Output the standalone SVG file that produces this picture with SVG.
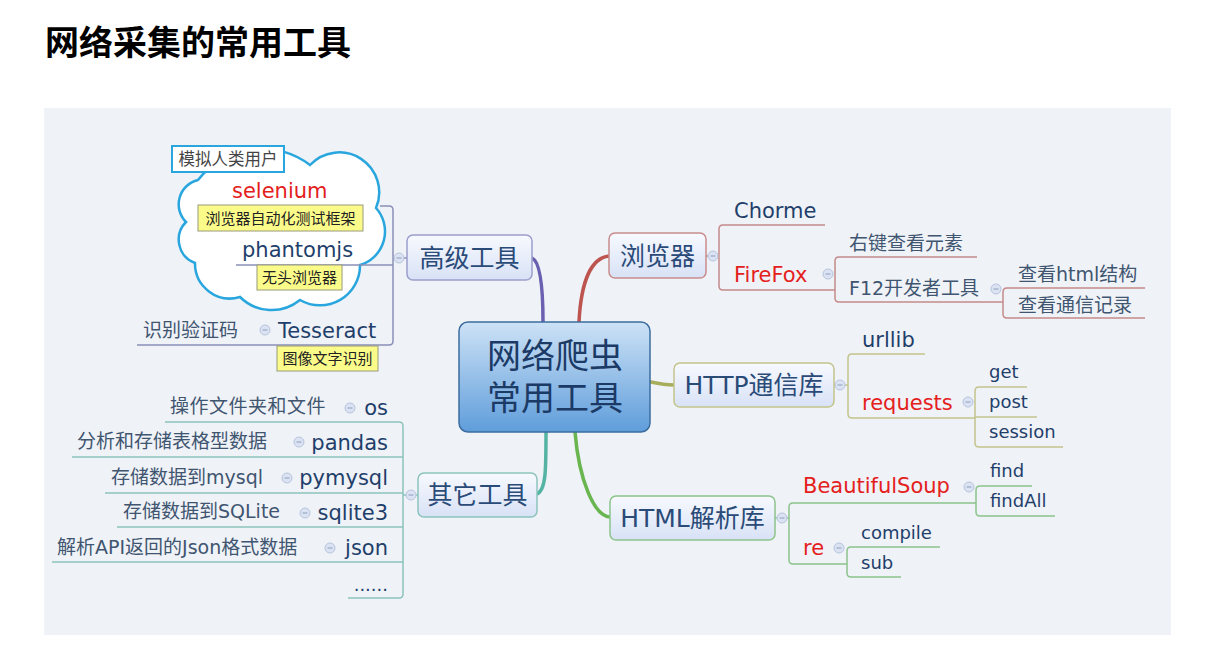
<svg xmlns="http://www.w3.org/2000/svg" width="1229" height="658" viewBox="0 0 1229 658">
<style>
text{font-family:"DejaVu Sans","Noto Sans CJK SC",sans-serif;}
.title{font-family:"Noto Sans CJK SC",sans-serif;font-weight:bold;font-size:34px;fill:#000;}
.center{font-size:34px;fill:#1c3a66;text-anchor:middle;}
.topic{font-size:25px;fill:#2a4a78;text-anchor:middle;}
.item{font-size:21px;fill:#1f3f6b;}
.sm{font-size:18px;fill:#1f3f6b;}
.red{fill:#e4201c;}
.lbl{font-size:19px;fill:#3f5570;}
.note{font-size:15px;fill:#222;text-anchor:middle;}
.ybox{fill:#fbfb8a;stroke:#9a9a7a;stroke-width:1;}
.cn{fill:none;stroke-width:1.5;}
.main{fill:none;stroke-width:3.5;stroke-linecap:round;}
.box{stroke-width:1.5;}
</style>
<defs>
<linearGradient id="gc" x1="0" y1="0" x2="0" y2="1">
<stop offset="0" stop-color="#cde2f6"/>
<stop offset="1" stop-color="#5f9ddb"/>
</linearGradient>
<linearGradient id="gt" x1="0" y1="0" x2="0" y2="1">
<stop offset="0" stop-color="#f7f9fe"/>
<stop offset="1" stop-color="#d8e2f6"/>
</linearGradient>
<g id="cb">
<circle r="5" fill="#dbe3f2" stroke="#b6c4de" stroke-width="1"/>
<line x1="-2.5" y1="0" x2="2.5" y2="0" stroke="#8e9ec0" stroke-width="1"/>
</g>
</defs>
<rect x="0" y="0" width="1229" height="658" fill="#ffffff"/>
<rect x="44" y="108" width="1127" height="527" fill="#eff2f7"/>
<text class="title" x="45" y="55">网络采集的常用工具</text>

<g id="cloud">
<path d="M 186 222 A 25 25 0 0 1 198 180 A 80 80 0 0 1 310 165 A 40 40 0 0 1 376 208 A 35 35 0 0 1 360 265 A 40 40 0 0 1 300 300 A 45 45 0 0 1 240 297 A 35 35 0 0 1 195 263 A 25 25 0 0 1 186 222 Z" fill="#ffffff" stroke="#2aa6df" stroke-width="2.5"/>
</g>

<g id="connectors">
<path class="main" stroke="#6a5fb0" d="M 532 258 C 541 262 543 292 543 322"/>
<path class="main" stroke="#bd5450" d="M 609 256 C 591 258 581 282 579 322"/>
<path class="main" stroke="#a7ad5a" d="M 651 382 C 660 384 665 385 674 385"/>
<path class="main" stroke="#69b54f" d="M 575 432 C 579 480 594 516 610 517"/>
<path class="main" stroke="#55b3a3" d="M 546 432 C 546 470 546 490 537 494"/>

<g stroke="#8b90b8" class="cn">
<path d="M 380 206 H 389 Q 393 206 393 210 V 341 Q 393 345 389 345 H 137"/>
<path d="M 236 265 H 393"/>
<path d="M 393 258 H 407"/>
</g>
<g stroke="#c58a8a" class="cn">
<path d="M 706 256 H 719"/>
<path d="M 825 225 H 723 Q 719 225 719 229 V 286 Q 719 290 723 290 H 835"/>
<path d="M 977 257 H 839 Q 835 257 835 261 V 298 Q 835 302 839 302 H 1003"/>
<path d="M 1145 288 H 1007 Q 1003 288 1003 292 V 314 Q 1003 318 1007 318 H 1145"/>
</g>
<g stroke="#c3c48c" class="cn">
<path d="M 834 385 H 848"/>
<path d="M 925 354 H 852 Q 848 354 848 358 V 414 Q 848 418 852 418 H 975"/>
<path d="M 1027 387 H 979 Q 975 387 975 391 V 443 Q 975 447 979 447 H 1063"/>
<path d="M 975 417 H 1037"/>
</g>
<g stroke="#8cc48c" class="cn">
<path d="M 775 518 H 789"/>
<path d="M 976 503 H 793 Q 789 503 789 507 V 560 Q 789 564 793 564 H 847"/>
<path d="M 1032 486 H 980 Q 976 486 976 490 V 512 Q 976 516 980 516 H 1055"/>
<path d="M 940 547 H 851 Q 847 547 847 551 V 573 Q 847 577 851 577 H 901"/>
</g>
<g stroke="#8cc3bd" class="cn">
<path d="M 403 495 H 418"/>
<path d="M 165 422 H 399 Q 403 422 403 426 V 594 Q 403 598 399 598 H 348"/>
<path d="M 72 457 H 403"/>
<path d="M 105 493 H 403"/>
<path d="M 117 527 H 403"/>
<path d="M 52 562 H 403"/>
</g>
<use href="#cb" x="399" y="258"/>
<use href="#cb" x="713" y="256"/>
<use href="#cb" x="828" y="274"/>
<use href="#cb" x="996" y="289"/>
<use href="#cb" x="840" y="385"/>
<use href="#cb" x="968" y="402"/>
<use href="#cb" x="782" y="518"/>
<use href="#cb" x="969" y="487"/>
<use href="#cb" x="839" y="548"/>
<use href="#cb" x="411" y="495"/>
<use href="#cb" x="265" y="330"/>
<use href="#cb" x="350" y="408"/>
<use href="#cb" x="299" y="442"/>
<use href="#cb" x="287" y="478"/>
<use href="#cb" x="305" y="513"/>
<use href="#cb" x="330" y="548"/>
</g>

<g id="center">
<rect x="459" y="322" width="191" height="110" rx="9" fill="url(#gc)" stroke="#3d6d9f" stroke-width="1.5"/>
<text class="center" x="555" y="368">网络爬虫</text>
<text class="center" x="555" y="410">常用工具</text>
</g>

<g id="advanced">
<rect class="box" x="407" y="235" width="125" height="45" rx="6" fill="url(#gt)" stroke="#9c9fcb"/>
<text class="topic" x="469.5" y="267">高级工具</text>
</g>
<g id="mimic">
<rect x="172" y="146" width="112" height="26" fill="#ffffff" stroke="#2aa6df" stroke-width="2"/>
<text x="228" y="165" font-size="16.5" fill="#444" text-anchor="middle">模拟人类用户</text>
</g>
<g id="selenium">
<text class="item red" x="232" y="198">selenium</text>
<rect class="ybox" x="198" y="205" width="165" height="26"/>
<text class="note" x="280.5" y="223.5">浏览器自动化测试框架</text>
</g>
<g id="phantomjs">
<text class="item" x="242" y="257" font-size="21.5">phantomjs</text>
<rect class="ybox" x="257" y="265" width="85" height="25"/>
<text class="note" x="299.5" y="283">无头浏览器</text>
</g>
<g id="tesseract">
<text class="item" x="278" y="338">Tesseract</text>
<text class="lbl" x="143" y="337">识别验证码</text>
<rect class="ybox" x="277" y="346" width="101" height="25"/>
<text class="note" x="327.5" y="364">图像文字识别</text>
</g>

<g id="browser">
<rect class="box" x="609" y="233" width="97" height="45" rx="6" fill="url(#gt)" stroke="#c98c8c"/>
<text class="topic" x="657.5" y="265">浏览器</text>
</g>
<g id="chorme"><text class="item" x="734" y="218">Chorme</text></g>
<g id="firefox"><text class="item red" x="734" y="282">FireFox</text></g>
<g id="rightclick"><text class="lbl" x="849" y="250">右键查看元素</text></g>
<g id="f12"><text class="lbl" x="849" y="295" fill="#1f3f6b">F12开发者工具</text></g>
<g id="viewhtml"><text class="lbl" x="1018" y="281">查看html结构</text></g>
<g id="viewnet"><text class="lbl" x="1018" y="312">查看通信记录</text></g>

<g id="http">
<rect class="box" x="674" y="363" width="160" height="44" rx="6" fill="url(#gt)" stroke="#c3c48c"/>
<text class="topic" x="754" y="394">HTTP通信库</text>
</g>
<g id="urllib"><text class="item" x="862" y="347">urllib</text></g>
<g id="requests"><text class="item red" x="862" y="410">requests</text></g>
<g id="get"><text class="sm" x="989" y="378">get</text></g>
<g id="post"><text class="sm" x="989" y="408">post</text></g>
<g id="session"><text class="sm" x="989" y="438">session</text></g>

<g id="html">
<rect class="box" x="610" y="496" width="165" height="44" rx="6" fill="url(#gt)" stroke="#8cc48c"/>
<text class="topic" x="692.5" y="527">HTML解析库</text>
</g>
<g id="bs"><text class="item red" x="803" y="493">BeautifulSoup</text></g>
<g id="re"><text class="item red" x="803" y="555">re</text></g>
<g id="find"><text class="sm" x="990" y="477">find</text></g>
<g id="findall"><text class="sm" x="990" y="507">findAll</text></g>
<g id="compile"><text class="sm" x="861" y="539">compile</text></g>
<g id="sub"><text class="sm" x="861" y="569">sub</text></g>

<g id="other">
<rect class="box" x="418" y="473" width="119" height="44" rx="6" fill="url(#gt)" stroke="#8cc3bd"/>
<text class="topic" x="477.5" y="504">其它工具</text>
</g>
<g id="os">
<text class="item" x="388" y="415" text-anchor="end" font-size="20.5">os</text>
<text class="lbl" x="170" y="413" letter-spacing="0.5">操作文件夹和文件</text>
</g>
<g id="pandas">
<text class="item" x="388" y="450" text-anchor="end" font-size="20.5">pandas</text>
<text class="lbl" x="77" y="448">分析和存储表格型数据</text>
</g>
<g id="pymysql">
<text class="item" x="388" y="485" text-anchor="end" font-size="20.5">pymysql</text>
<text class="lbl" x="111" y="484">存储数据到mysql</text>
</g>
<g id="sqlite3">
<text class="item" x="388" y="520" text-anchor="end" font-size="20.5">sqlite3</text>
<text class="lbl" x="123" y="518">存储数据到SQLite</text>
</g>
<g id="json">
<text class="item" x="388" y="555" text-anchor="end" font-size="20.5">json</text>
<text class="lbl" x="57" y="554">解析API返回的Json格式数据</text>
</g>
<g id="more">
<text class="sm" x="388" y="591" text-anchor="end" font-size="16">......</text>
</g>
</svg>
